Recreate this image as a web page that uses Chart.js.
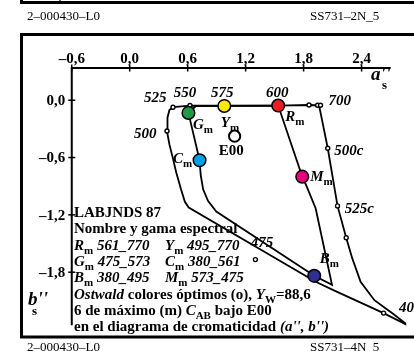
<!DOCTYPE html>
<html>
<head>
<meta charset="utf-8">
<script src="https://cdn.jsdelivr.net/npm/chart.js@4/dist/chart.umd.min.js"></script>
<style>
  html, body { margin: 0; padding: 0; background: #fff; }
  #wrap { width: 414px; height: 351px; }
</style>
</head>
<body>
<div id="wrap"><canvas id="myChart" width="414" height="351"></canvas></div>
<script>
// outer locus of the optimal colours, (a''s, b''s)
const locusA = [2.882, 2.628, 2.125, 1.925, 0.611, 0.571, 0.531, 0.481, 0.441, 0.411, 0.386, 0.391, 0.411, 0.448, 0.624, 0.979, 1.537, 1.856, 1.96, 2.05, 2.151, 2.241, 2.303, 2.39, 2.533, 2.722, 2.882];
const locusB = [-2.358, -2.228, -1.995, -1.9, -1.123, -1.063, -0.933, -0.753, -0.583, -0.463, -0.323, -0.183, -0.103, -0.073, -0.056, -0.058, -0.056, -0.05, -0.053, -0.503, -1.106, -1.44, -1.653, -1.9, -2.093, -2.233, -2.358];

// gamut of the 6 maximum chroma colours
const gamutA = [0.608, 0.682, 0.979, 1.537, 1.786, 1.836, 1.925, 2.094, 1.91, 0.896, 0.81, 0.76, 0.735, 0.723, 0.608];
const gamutB = [-0.133, -0.063, -0.06, -0.056, -0.8, -0.913, -1.133, -1.933, -1.838, -1.166, -1.053, -0.933, -0.783, -0.628, -0.133];

// optimal colours (o) with wavelength labels
const optimalA = [0.448, 0.624, 0.979, 1.537, 1.856, 1.945, 1.975, 0.386, 2.05, 2.151, 2.241, 1.301, 2.628];
const optimalB = [-0.073, -0.056, -0.06, -0.056, -0.05, -0.053, -0.053, -0.323, -0.503, -1.106, -1.44, -1.668, -2.228];
const optimalLabels = ["525", "550", "575", "600", "", "", "700", "500", "500c", "525c", "", "475", "400"];

// maximum colours (m)
const maxNames = ["G", "Y", "R", "C", "M", "B"];
const maxA = [0.608, 0.979, 1.537, 0.723, 1.786, 1.91];
const maxB = [-0.133, -0.06, -0.056, -0.628, -0.8, -1.838];
const maxColors = ["#1e9a48", "#ffeb00", "#ee1c25", "#00a0e3", "#e5007e", "#2e3192"];

// achromatic point E00
const e00A = [1.086];
const e00B = [-0.376];

const xTicks = [-0.6, 0.0, 0.6, 1.2, 1.8, 2.4];
const yTicks = [0.0, -0.6, -1.2, -1.8];

const SERIF = '"Liberation Serif", "Times New Roman", serif';

// label offsets in pixels from their marks
const waveOffsets = {
  "525": [-6.5, -9, "right"],
  "550": [-5, -12, "center"],
  "575": [-2, -12.5, "center"],
  "600": [-1, -12, "center"],
  "700": [8, -4, "left"],
  "500": [-10.5, 3, "right"],
  "500c": [6.5, 3, "left"],
  "525c": [7.3, 3, "left"],
  "475": [6.5, -16.5, "center"],
  "400": [15.5, -4.5, "left"],
};
const maxOffsets = { G: [4.5, 16], Y: [-3.5, 21], R: [7, 15], C: [-26.5, 3], M: [8, 4], B: [5.5, -13] };

const pts = (xs, ys) => xs.map((x, i) => ({ x: x, y: ys[i] }));
const fmt = (v) => (v < 0 ? "\u2013" : "") + Math.abs(v).toFixed(1).replace(".", ",");

function rich(ctx, x, y, parts) {
  for (const [txt, st] of parts) {
    const sub = st.indexOf("s") >= 0;
    const ital = st.indexOf("i") >= 0;
    ctx.font = (ital ? "italic " : "") + "bold " + (sub ? 11 : 15) + "px " + SERIF;
    ctx.fillText(txt, x, y + (sub ? 4 : 0));
    x += ctx.measureText(txt).width;
  }
  return x;
}

const framePlugin = {
  id: "frame",
  beforeDatasetsDraw(chart) {
    const ctx = chart.ctx;
    const sx = (v) => chart.scales.x.getPixelForValue(v);
    const sy = (v) => chart.scales.y.getPixelForValue(v);
    ctx.save();
    ctx.strokeStyle = "#000";
    // neighbouring figure above (cut off)
    ctx.lineWidth = 3;
    ctx.beginPath();
    ctx.moveTo(21.5, 0); ctx.lineTo(21.5, 2.5); ctx.lineTo(416, 2.5);
    ctx.stroke();
    ctx.lineWidth = 1.2;
    ctx.beginPath(); ctx.moveTo(60, 0); ctx.lineTo(60, 2); ctx.stroke();
    // frame
    ctx.lineWidth = 3;
    ctx.strokeRect(21.5, 34.5, 420, 302.5);

    // axes
    const x0 = sx(-0.6), yTop = sy(0.337);
    ctx.lineWidth = 2;
    ctx.beginPath();
    ctx.moveTo(sx(2.7), yTop); ctx.lineTo(x0, yTop); ctx.lineTo(x0, sy(-2.355));
    ctx.stroke();
    ctx.lineWidth = 1.5;
    ctx.fillStyle = "#000";
    ctx.font = "bold 15px " + SERIF;
    ctx.textAlign = "center";
    ctx.textBaseline = "alphabetic";
    xTicks.forEach((v) => {
      const px = sx(v);
      ctx.beginPath(); ctx.moveTo(px, yTop - 3.5); ctx.lineTo(px, yTop + 3.5); ctx.stroke();
      ctx.fillText(fmt(v), px, yTop - 5.5);
    });
    ctx.textAlign = "right";
    ctx.textBaseline = "middle";
    yTicks.forEach((v) => {
      const py = sy(v);
      ctx.beginPath(); ctx.moveTo(x0 - 3.5, py); ctx.lineTo(x0 + 3.5, py); ctx.stroke();
      ctx.fillText(fmt(v), x0 - 6.5, py + 1);
    });
    ctx.restore();
  },
  afterDatasetsDraw(chart) {
    const ctx = chart.ctx;
    const sx = (v) => chart.scales.x.getPixelForValue(v);
    const sy = (v) => chart.scales.y.getPixelForValue(v);
    ctx.save();
    ctx.fillStyle = "#000";

    // wavelength labels
    ctx.font = "italic bold 15px " + SERIF;
    ctx.textBaseline = "middle";
    optimalLabels.forEach((t, i) => {
      if (!t) return;
      const o = waveOffsets[t];
      ctx.textAlign = o[2];
      ctx.fillText(t, sx(optimalA[i]) + o[0], sy(optimalB[i]) + o[1]);
    });

    // labels of the maximum colours
    ctx.textAlign = "left";
    ctx.textBaseline = "alphabetic";
    maxNames.forEach((n, i) => {
      const o = maxOffsets[n];
      rich(ctx, sx(maxA[i]) + o[0], sy(maxB[i]) + o[1], [[n, "bi"], ["m", "s"]]);
    });

    // E00
    ctx.font = "bold 15px " + SERIF;
    ctx.textAlign = "center";
    ctx.textBaseline = "middle";
    ctx.fillText("E00", sx(e00A[0]) - 3.5, sy(e00B[0]) + 15);

    // axis titles
    ctx.textAlign = "left";
    ctx.textBaseline = "alphabetic";
    ctx.font = "italic bold 19px " + SERIF;
    ctx.fillText("a''", 371, 80);
    ctx.fillText("b''", 28, 305);
    ctx.font = "bold 13px " + SERIF;
    ctx.fillText("s", 382, 89);
    ctx.fillText("s", 32, 315);

    // text block
    const tx = 74, lh = 16.3;
    let ty = 217;
    rich(ctx, tx, ty, [["LABJNDS 87", "b"]]); ty += lh;
    rich(ctx, tx, ty, [["Nombre y gama espectral", "b"]]); ty += lh;
    rich(ctx, tx, ty, [["R", "bi"], ["m", "s"], [" 561_770", "bi"]]);
    rich(ctx, 165, ty, [["Y", "bi"], ["m", "s"], [" 495_770", "bi"]]); ty += lh;
    rich(ctx, tx, ty, [["G", "bi"], ["m", "s"], [" 475_573", "bi"]]);
    rich(ctx, 165, ty, [["C", "bi"], ["m", "s"], [" 380_561", "bi"]]); ty += lh;
    rich(ctx, tx, ty, [["B", "bi"], ["m", "s"], [" 380_495", "bi"]]);
    rich(ctx, 165, ty, [["M", "bi"], ["m", "s"], [" 573_475", "bi"]]); ty += lh;
    rich(ctx, tx, ty, [["Ostwald", "bi"], [" colores \u00f3ptimos (o), ", "b"], ["Y", "bi"], ["W", "s"], ["=88,6", "b"]]); ty += lh;
    rich(ctx, tx, ty, [["6 de m\u00e1ximo (m) ", "b"], ["C", "bi"], ["AB", "s"], [" bajo E00", "b"]]); ty += lh;
    rich(ctx, tx, ty, [["en el diagrama de cromaticidad ", "b"], ["(a'', b'')", "bi"]]);

    // page codes
    ctx.font = "13px " + SERIF;
    ctx.fillText("2\u2013000430\u2013L0", 27, 19.5);
    ctx.fillText("SS731\u20132N_5", 310, 19.5);
    ctx.fillText("2\u2013000430\u2013L0", 27, 350.5);
    ctx.fillText("SS731\u20134N_5", 310, 350.5);
    ctx.restore();
  },
};

const ctx = document.getElementById("myChart").getContext("2d");
new Chart(ctx, {
  type: "scatter",
  data: {
    datasets: [
      {
        label: "max",
        data: pts(maxA, maxB),
        pointRadius: 6.3,
        pointBackgroundColor: maxColors,
        pointBorderColor: "#000",
        pointBorderWidth: 1.5,
        order: 1,
      },
      {
        label: "E00",
        data: pts(e00A, e00B),
        pointRadius: 5.6,
        pointBackgroundColor: "#fff",
        pointBorderColor: "#000",
        pointBorderWidth: 2,
        order: 1,
      },
      {
        label: "optimal",
        data: pts(optimalA, optimalB),
        pointRadius: 2,
        pointBackgroundColor: "#fff",
        pointBorderColor: "#000",
        pointBorderWidth: 1.4,
        order: 2,
      },
      {
        label: "gamut",
        data: pts(gamutA, gamutB),
        showLine: true,
        borderColor: "#000",
        borderWidth: 1.8,
        pointRadius: 0,
        tension: 0,
        order: 3,
      },
      {
        label: "locus",
        data: pts(locusA, locusB),
        showLine: true,
        borderColor: "#000",
        borderWidth: 1.8,
        pointRadius: 0,
        tension: 0,
        order: 3,
      },
    ],
  },
  options: {
    responsive: false,
    animation: false,
    devicePixelRatio: 1,
    events: [],
    layout: { padding: 0 },
    plugins: { legend: { display: false }, tooltip: { enabled: false } },
    scales: {
      x: { type: "linear", min: -1.262, max: 2.862, display: false },
      y: { type: "linear", min: -2.543, max: 0.967, display: false },
    },
  },
  plugins: [framePlugin],
});
</script>
</body>
</html>
